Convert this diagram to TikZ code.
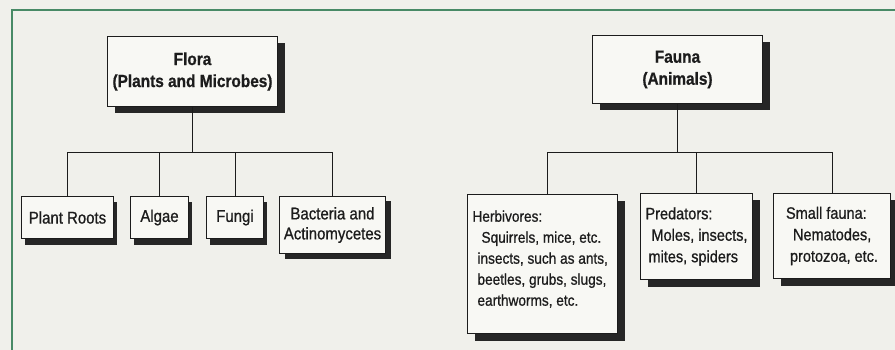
\documentclass[tikz,border=0pt]{standalone}
\usepackage{fontspec}
\setmainfont{Liberation Sans}[FakeStretch=0.88, FakeBold=0.8]
\usetikzlibrary{shadows}
\definecolor{bg}{RGB}{240,240,235}
\definecolor{boxfill}{RGB}{248,248,244}
\definecolor{frame}{RGB}{72,138,102}
\definecolor{ink}{RGB}{28,28,28}
\definecolor{shade}{RGB}{38,38,38}
\begin{document}
\begin{tikzpicture}[x=1pt,y=-1pt,
  box/.style={draw=ink, line width=1pt, fill=boxfill, anchor=north west, inner sep=0pt, text=ink},
  bigbox/.style={box, drop shadow={shadow xshift=7pt, shadow yshift=-7pt, fill=shade, opacity=1},
    font=\fontsize{17.5}{22}\selectfont\bfseries, align=center},
  smallbox/.style={box, drop shadow={shadow xshift=3pt, shadow yshift=-6pt, fill=shade, opacity=1},
    font=\fontsize{17}{20}\selectfont, align=center},
  midbox/.style={box, drop shadow={shadow xshift=5pt, shadow yshift=-5pt, fill=shade, opacity=1},
    font=\fontsize{17}{20}\selectfont, align=center},
  leafbox/.style={box, drop shadow={shadow xshift=7pt, shadow yshift=-7pt, fill=shade, opacity=1},
    font=\fontsize{15.5}{21}\selectfont, align=left},
  link/.style={draw=ink, line width=1pt}]
\fill[bg] (0,0) rectangle (895,350);
\useasboundingbox (0,0) rectangle (895,350);
\draw[frame, line width=2.5pt] (12,350) -- (12,10) -- (895,10);

% Flora
\node[bigbox, minimum width=170pt, minimum height=70pt] (flora) at (107,36) {Flora\\(Plants and Microbes)};
\node[smallbox, minimum width=92pt, minimum height=42pt] (roots) at (21,196) {Plant Roots};
\node[smallbox, minimum width=58pt, minimum height=42pt] (algae) at (130,196) {Algae};
\node[smallbox, minimum width=57pt, minimum height=42pt] (fungi) at (206,196) {Fungi};
\node[midbox, minimum width=106pt, minimum height=57pt] (bact) at (279,196) {Bacteria and\\Actinomycetes};

% Fauna
\node[bigbox, minimum width=170pt, minimum height=68pt] (fauna) at (592,35) {Fauna\\(Animals)};
\node[leafbox] (herb) at (467,194) {\parbox[c][139pt][t]{150pt}{\raggedright\vspace*{16pt}%
\hspace*{5pt}Herbivores:\\
\hspace*{14pt}Squirrels, mice, etc.\\
\hspace*{10pt}insects, such as ants,\\
\hspace*{10pt}beetles, grubs, slugs,\\
\hspace*{10pt}earthworms, etc.}};
\node[leafbox, font=\fontsize{16.5}{21.5}\selectfont, minimum width=112pt, minimum height=86pt] (pred) at (640,193) {Predators:\\\hspace*{6pt}Moles, insects,\\\hspace*{3pt}mites, spiders};
\node[leafbox, font=\fontsize{16.5}{21.5}\selectfont, minimum width=117pt, minimum height=85pt] (small) at (773,193) {Small fauna:\\\hspace*{7pt}Nematodes,\\\hspace*{4pt}protozoa, etc.};

% connectors
\coordinate (fj) at (flora.south |- 0,153);
\coordinate (aj) at (fauna.south |- 0,153);
\draw[link] (flora.south) -- (fj);
\draw[link] (roots.north) |- (fj);
\draw[link] (bact.north) |- (fj);
\draw[link] (algae.north) -- (algae.north |- fj);
\draw[link] (fungi.north) -- (fungi.north |- fj);
\draw[link] (fauna.south) -- (aj);
\draw[link] ([xshift=5pt]herb.north) |- (aj);
\draw[link] (small.north) |- (aj);
\draw[link] (pred.north) -- (pred.north |- aj);
\end{tikzpicture}
\end{document}
